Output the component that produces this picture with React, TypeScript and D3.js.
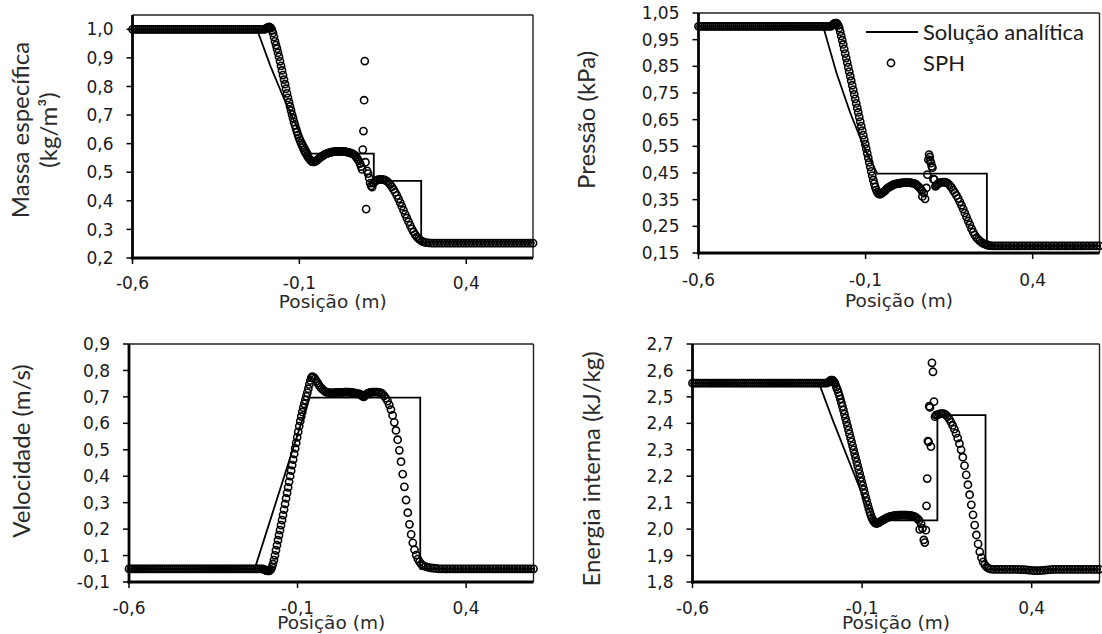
import React from "react";
import * as d3 from "d3";

// SPH particle positions (m), shared by the four panels
const posX = [
  // left state
  -0.600, -0.594, -0.588, -0.582, -0.576, -0.570, -0.564, -0.558, -0.552, -0.546,
  -0.540, -0.534, -0.528, -0.522, -0.516, -0.510, -0.504, -0.498, -0.492, -0.486,
  -0.480, -0.474, -0.468, -0.462, -0.456, -0.450, -0.444, -0.438, -0.432, -0.426,
  -0.420, -0.414, -0.408, -0.402, -0.396, -0.390, -0.384, -0.378, -0.372, -0.366,
  -0.360, -0.354, -0.348, -0.342, -0.336, -0.330, -0.324, -0.318, -0.312, -0.306,
  -0.300, -0.294, -0.288, -0.282, -0.276, -0.270, -0.264, -0.258, -0.252, -0.246,
  -0.240, -0.234, -0.228, -0.222, -0.216, -0.210, -0.204,
  // rarefaction
  -0.200, -0.197, -0.194, -0.191, -0.188, -0.185, -0.182, -0.179, -0.176, -0.173,
  -0.170, -0.167, -0.164, -0.161, -0.158, -0.155, -0.152, -0.149, -0.146, -0.143,
  -0.140, -0.137, -0.134, -0.131, -0.128, -0.125, -0.122, -0.119, -0.116, -0.113,
  -0.110, -0.107, -0.104, -0.101, -0.098, -0.095, -0.092, -0.089, -0.086, -0.083,
  -0.080, -0.077, -0.074, -0.071, -0.068, -0.065, -0.062, -0.059, -0.056,
  // plateau
  -0.052, -0.048, -0.044, -0.040, -0.036, -0.032, -0.028, -0.024, -0.020, -0.016,
  -0.012, -0.008, -0.004, 0.000, 0.004, 0.008, 0.012, 0.016, 0.020, 0.024,
  0.028, 0.032, 0.036, 0.040, 0.044, 0.048, 0.052, 0.056, 0.060, 0.064, 0.068,
  // contact
  0.070, 0.074, 0.078, 0.082, 0.085, 0.088, 0.090, 0.092, 0.094, 0.096,
  0.098, 0.100, 0.103, 0.106, 0.109, 0.112, 0.115, 0.118,
  // post contact / shock
  0.122, 0.127, 0.132, 0.137, 0.142, 0.147, 0.152, 0.157, 0.162, 0.167,
  0.172, 0.177, 0.182, 0.187, 0.192, 0.197, 0.202, 0.207, 0.212, 0.217,
  0.222, 0.227, 0.232, 0.237, 0.242, 0.247, 0.252, 0.257, 0.262, 0.267, 0.272,
  // right state
  0.280, 0.288, 0.296, 0.304, 0.312, 0.320, 0.328, 0.336, 0.344, 0.352,
  0.360, 0.368, 0.376, 0.384, 0.392, 0.400, 0.408, 0.416, 0.424, 0.432,
  0.440, 0.448, 0.456, 0.464, 0.472, 0.480, 0.488, 0.496, 0.504, 0.512,
  0.520, 0.528, 0.536, 0.544, 0.552, 0.560, 0.568, 0.576, 0.584, 0.592, 0.600,
];

const rhoSPH = [
  1.0, 1.0, 1.0, 1.0, 1.0, 1.0, 1.0, 1.0, 1.0, 1.0,
  1.0, 1.0, 1.0, 1.0, 1.0, 1.0, 1.0, 1.0, 1.0, 1.0,
  1.0, 1.0, 1.0, 1.0, 1.0, 1.0, 1.0, 1.0, 1.0, 1.0,
  1.0, 1.0, 1.0, 1.0, 1.0, 1.0, 1.0, 1.0, 1.0, 1.0,
  1.0, 1.0, 1.0, 1.0, 1.0, 1.0, 1.0, 1.0, 1.0, 1.0,
  1.0, 1.0, 1.0, 1.0, 1.0, 1.0, 1.0, 1.0, 1.0, 1.0,
  1.0, 1.0, 1.0, 1.0, 1.0, 1.0, 1.0,
  1.003, 1.005, 1.007, 1.008, 1.007, 1.004, 0.997, 0.987, 0.973, 0.958,
  0.945, 0.932, 0.918, 0.904, 0.888, 0.872, 0.856, 0.840, 0.824, 0.808,
  0.792, 0.776, 0.760, 0.745, 0.730, 0.716, 0.702, 0.689, 0.676, 0.664,
  0.652, 0.641, 0.630, 0.620, 0.611, 0.602, 0.594, 0.586, 0.578, 0.571,
  0.565, 0.559, 0.553, 0.548, 0.544, 0.540, 0.537, 0.536, 0.536,
  0.538, 0.541, 0.545, 0.549, 0.553, 0.556, 0.559, 0.562, 0.564, 0.566,
  0.568, 0.569, 0.570, 0.571, 0.572, 0.572, 0.573, 0.573, 0.573, 0.573,
  0.573, 0.572, 0.572, 0.571, 0.570, 0.569, 0.568, 0.566, 0.564, 0.561, 0.558,
  0.553, 0.547, 0.540, 0.530, 0.520, 0.510, 0.579, 0.644, 0.752, 0.889,
  0.535, 0.371, 0.505, 0.495, 0.480, 0.462, 0.452, 0.448,
  0.462, 0.468, 0.472, 0.474, 0.475, 0.475, 0.474, 0.472, 0.469, 0.464,
  0.457, 0.449, 0.440, 0.430, 0.419, 0.407, 0.394, 0.381, 0.367, 0.353,
  0.340, 0.327, 0.314, 0.302, 0.291, 0.282, 0.274, 0.268, 0.263, 0.259, 0.256,
  0.254, 0.253, 0.252, 0.252, 0.252, 0.252, 0.252, 0.252, 0.252, 0.252,
  0.252, 0.252, 0.252, 0.252, 0.252, 0.252, 0.252, 0.252, 0.252, 0.252,
  0.252, 0.252, 0.252, 0.252, 0.252, 0.252, 0.252, 0.252, 0.252, 0.252,
  0.252, 0.252, 0.252, 0.252, 0.252, 0.252, 0.252, 0.252, 0.252, 0.252, 0.252,
];

const presSPH = [
  1.0, 1.0, 1.0, 1.0, 1.0, 1.0, 1.0, 1.0, 1.0, 1.0,
  1.0, 1.0, 1.0, 1.0, 1.0, 1.0, 1.0, 1.0, 1.0, 1.0,
  1.0, 1.0, 1.0, 1.0, 1.0, 1.0, 1.0, 1.0, 1.0, 1.0,
  1.0, 1.0, 1.0, 1.0, 1.0, 1.0, 1.0, 1.0, 1.0, 1.0,
  1.0, 1.0, 1.0, 1.0, 1.0, 1.0, 1.0, 1.0, 1.0, 1.0,
  1.0, 1.0, 1.0, 1.0, 1.0, 1.0, 1.0, 1.0, 1.0, 1.0,
  1.0, 1.0, 1.0, 1.0, 1.0, 1.0, 1.0,
  1.004, 1.007, 1.010, 1.012, 1.012, 1.010, 1.004, 0.994, 0.980, 0.964,
  0.948, 0.932, 0.915, 0.898, 0.881, 0.864, 0.847, 0.830, 0.813, 0.796,
  0.779, 0.762, 0.745, 0.728, 0.711, 0.694, 0.677, 0.660, 0.643, 0.626,
  0.609, 0.592, 0.575, 0.558, 0.541, 0.524, 0.507, 0.490, 0.473, 0.456,
  0.440, 0.424, 0.410, 0.397, 0.386, 0.378, 0.373, 0.371, 0.371,
  0.374, 0.377, 0.381, 0.386, 0.391, 0.395, 0.398, 0.401, 0.404, 0.406,
  0.408, 0.409, 0.410, 0.411, 0.412, 0.413, 0.413, 0.414, 0.414, 0.414,
  0.414, 0.414, 0.413, 0.412, 0.411, 0.409, 0.406, 0.402, 0.397, 0.391, 0.384,
  0.362, 0.375, 0.353, 0.394, 0.444, 0.500, 0.519, 0.510, 0.495, 0.487,
  0.475, 0.470, 0.427, 0.425, 0.400, 0.404, 0.408, 0.411,
  0.413, 0.415, 0.416, 0.416, 0.414, 0.410, 0.404, 0.396, 0.386, 0.376,
  0.366, 0.355, 0.342, 0.329, 0.315, 0.300, 0.285, 0.270, 0.256, 0.241,
  0.228, 0.217, 0.208, 0.201, 0.195, 0.190, 0.186, 0.183, 0.181, 0.179, 0.178,
  0.177, 0.177, 0.177, 0.177, 0.177, 0.177, 0.177, 0.177, 0.177, 0.177,
  0.177, 0.177, 0.177, 0.177, 0.177, 0.177, 0.177, 0.177, 0.177, 0.177,
  0.177, 0.177, 0.177, 0.177, 0.177, 0.177, 0.177, 0.177, 0.177, 0.177,
  0.177, 0.177, 0.177, 0.177, 0.177, 0.177, 0.177, 0.177, 0.177, 0.177, 0.177,
];

const velSPH = [
  0.05, 0.05, 0.05, 0.05, 0.05, 0.05, 0.05, 0.05, 0.05, 0.05,
  0.05, 0.05, 0.05, 0.05, 0.05, 0.05, 0.05, 0.05, 0.05, 0.05,
  0.05, 0.05, 0.05, 0.05, 0.05, 0.05, 0.05, 0.05, 0.05, 0.05,
  0.05, 0.05, 0.05, 0.05, 0.05, 0.05, 0.05, 0.05, 0.05, 0.05,
  0.05, 0.05, 0.05, 0.05, 0.05, 0.05, 0.05, 0.05, 0.05, 0.05,
  0.05, 0.05, 0.05, 0.05, 0.05, 0.05, 0.05, 0.05, 0.05, 0.05,
  0.05, 0.05, 0.05, 0.05, 0.05, 0.05, 0.05,
  0.048, 0.046, 0.044, 0.043, 0.042, 0.042, 0.044, 0.048, 0.056, 0.068,
  0.083, 0.101, 0.120, 0.139, 0.158, 0.177, 0.196, 0.215, 0.234, 0.253,
  0.274, 0.295, 0.316, 0.337, 0.358, 0.379, 0.400, 0.421, 0.442, 0.463,
  0.484, 0.505, 0.526, 0.547, 0.568, 0.589, 0.608, 0.626, 0.643, 0.659,
  0.674, 0.688, 0.702, 0.716, 0.731, 0.747, 0.762, 0.773, 0.777,
  0.774, 0.768, 0.760, 0.752, 0.744, 0.737, 0.731, 0.726, 0.722, 0.719,
  0.717, 0.716, 0.715, 0.715, 0.715, 0.715, 0.716, 0.716, 0.716, 0.717,
  0.717, 0.717, 0.717, 0.718, 0.718, 0.718, 0.718, 0.717, 0.716, 0.716, 0.715,
  0.714, 0.713, 0.712, 0.711, 0.710, 0.708, 0.706, 0.704, 0.702, 0.700,
  0.702, 0.705, 0.708, 0.711, 0.713, 0.715, 0.716, 0.717,
  0.718, 0.718, 0.718, 0.718, 0.717, 0.715, 0.711, 0.704, 0.695, 0.684,
  0.670, 0.652, 0.630, 0.604, 0.573, 0.538, 0.498, 0.455, 0.408, 0.360,
  0.310, 0.262, 0.218, 0.180, 0.148, 0.122, 0.102, 0.087, 0.076, 0.068, 0.062,
  0.058, 0.055, 0.053, 0.052, 0.051, 0.05, 0.05, 0.05, 0.05, 0.05,
  0.05, 0.05, 0.05, 0.05, 0.05, 0.05, 0.05, 0.05, 0.05, 0.05,
  0.05, 0.05, 0.05, 0.05, 0.05, 0.05, 0.05, 0.05, 0.05, 0.05,
  0.05, 0.05, 0.05, 0.05, 0.05, 0.05, 0.05, 0.05, 0.05, 0.05, 0.05,
];

const enerSPH = [
  2.552, 2.552, 2.552, 2.552, 2.552, 2.552, 2.552, 2.552, 2.552, 2.552,
  2.552, 2.552, 2.552, 2.552, 2.552, 2.552, 2.552, 2.552, 2.552, 2.552,
  2.552, 2.552, 2.552, 2.552, 2.552, 2.552, 2.552, 2.552, 2.552, 2.552,
  2.552, 2.552, 2.552, 2.552, 2.552, 2.552, 2.552, 2.552, 2.552, 2.552,
  2.552, 2.552, 2.552, 2.552, 2.552, 2.552, 2.552, 2.552, 2.552, 2.552,
  2.552, 2.552, 2.552, 2.552, 2.552, 2.552, 2.552, 2.552, 2.552, 2.552,
  2.552, 2.552, 2.552, 2.552, 2.552, 2.552, 2.552,
  2.555, 2.558, 2.561, 2.563, 2.563, 2.561, 2.556, 2.548, 2.537, 2.528,
  2.517, 2.505, 2.492, 2.478, 2.464, 2.450, 2.435, 2.420, 2.405, 2.390,
  2.375, 2.360, 2.345, 2.330, 2.315, 2.300, 2.285, 2.270, 2.255, 2.240,
  2.225, 2.210, 2.195, 2.180, 2.165, 2.150, 2.135, 2.120, 2.105, 2.091,
  2.077, 2.064, 2.052, 2.042, 2.034, 2.028, 2.024, 2.022, 2.022,
  2.024, 2.027, 2.030, 2.033, 2.036, 2.039, 2.042, 2.044, 2.046, 2.048,
  2.049, 2.050, 2.051, 2.052, 2.052, 2.053, 2.053, 2.053, 2.053, 2.053,
  2.053, 2.053, 2.052, 2.052, 2.051, 2.050, 2.048, 2.046, 2.043, 2.039, 2.033,
  1.999, 2.020, 2.003, 1.959, 1.949, 1.996, 2.088, 2.191, 2.333, 2.330,
  2.465, 2.460, 2.312, 2.629, 2.595, 2.482, 2.425, 2.431,
  2.432, 2.435, 2.437, 2.437, 2.436, 2.432, 2.425, 2.416, 2.405, 2.392,
  2.378, 2.362, 2.344, 2.323, 2.300, 2.272, 2.240, 2.205, 2.168, 2.130,
  2.092, 2.054, 2.015, 1.978, 1.944, 1.914, 1.892, 1.876, 1.865, 1.857, 1.852,
  1.849, 1.848, 1.848, 1.848, 1.848, 1.848, 1.848, 1.848, 1.848, 1.848,
  1.848, 1.847, 1.847, 1.846, 1.845, 1.844, 1.843, 1.843, 1.843, 1.844,
  1.845, 1.846, 1.847, 1.848, 1.848, 1.848, 1.848, 1.848, 1.848, 1.848,
  1.848, 1.848, 1.848, 1.848, 1.848, 1.848, 1.848, 1.848, 1.848, 1.848, 1.848,
];

// analytic solution, as polylines
const rhoExactX = [-0.6, -0.227, -0.187, -0.146, -0.106, -0.065, 0.123, 0.123, 0.265, 0.265, 0.6];
const rhoExactY = [1.0, 1.0, 0.872, 0.757, 0.654, 0.565, 0.565, 0.47, 0.47, 0.255, 0.255];
const presExactX = [-0.6, -0.227, -0.187, -0.146, -0.106, -0.065, 0.263, 0.263, 0.6];
const presExactY = [1.0, 1.0, 0.825, 0.676, 0.551, 0.4475, 0.4475, 0.177, 0.177];
const velExactX = [-0.6, -0.227, -0.065, 0.264, 0.264, 0.6];
const velExactY = [0.05, 0.05, 0.697, 0.697, 0.05, 0.05];
const enerExactX = [-0.6, -0.227, -0.187, -0.146, -0.106, -0.065, 0.122, 0.122, 0.264, 0.264, 0.6];
const enerExactY = [2.552, 2.552, 2.414, 2.281, 2.152, 2.033, 2.033, 2.431, 2.431, 1.848, 1.848];

// axis ticks
const xTicks = [-0.6, -0.1, 0.4];
const xTickLabels = ["-0,6", "-0,1", "0,4"];
const rhoTicks = [0.2, 0.3, 0.4, 0.5, 0.6, 0.7, 0.8, 0.9, 1.0];
const rhoTickLabels = ["0,2", "0,3", "0,4", "0,5", "0,6", "0,7", "0,8", "0,9", "1,0"];
const presTicks = [0.15, 0.25, 0.35, 0.45, 0.55, 0.65, 0.75, 0.85, 0.95, 1.05];
const presTickLabels = ["0,15", "0,25", "0,35", "0,45", "0,55", "0,65", "0,75", "0,85", "0,95", "1,05"];
const velTicks = [0, 0.1, 0.2, 0.3, 0.4, 0.5, 0.6, 0.7, 0.8, 0.9];
const velTickLabels = ["-0,1", "0,1", "0,2", "0,3", "0,4", "0,5", "0,6", "0,7", "0,8", "0,9"];
const enerTicks = [1.8, 1.9, 2.0, 2.1, 2.2, 2.3, 2.4, 2.5, 2.6, 2.7];
const enerTickLabels = ["1,8", "1,9", "2,0", "2,1", "2,2", "2,3", "2,4", "2,5", "2,6", "2,7"];

const TICK_FONT = "'DejaVu Sans', Verdana, sans-serif";
const TITLE_FONT = "Lato, 'Open Sans', sans-serif";
const INK = "#1a1a1a";
const DOT_R = 3.6;
const DOT_W = 1.6;

type PanelProps = {
  left: number;
  right: number;
  top: number;
  bottom: number;
  yDomain: [number, number];
  yTicks: number[];
  yTickLabels: string[];
  sph: number[];
  exactX: number[];
  exactY: number[];
  title: string[];
  titleX: number;
  titleY: number;
  xTickY: number;
  xTitleY: number;
};

function Panel(p: PanelProps) {
  const x = d3.scaleLinear().domain([-0.6, 0.6]).range([p.left, p.right]);
  const y = d3.scaleLinear().domain(p.yDomain).range([p.bottom, p.top]);
  const exact = d3
    .line<number>()
    .x((d) => x(d))
    .y((_, i) => y(p.exactY[i]))(p.exactX);
  const n = Math.min(posX.length, p.sph.length);

  return (
    <g>
      <line x1={p.left} x2={p.right} y1={p.top} y2={p.top} stroke="#222" strokeWidth={1.4} />
      <line x1={p.right} x2={p.right} y1={p.top} y2={p.bottom} stroke="#222" strokeWidth={1.4} />
      <path d={exact || ""} fill="none" stroke="#000" strokeWidth={1.8} />
      {posX.slice(0, n).map((px, i) => (
        <circle
          key={i}
          cx={x(px)}
          cy={y(p.sph[i])}
          r={DOT_R}
          fill="none"
          stroke="#000"
          strokeWidth={DOT_W}
        />
      ))}
      <line x1={p.left} x2={p.left} y1={p.top} y2={p.bottom + 1.4} stroke="#000" strokeWidth={2.8} />
      <line x1={p.left - 1.4} x2={p.right} y1={p.bottom} y2={p.bottom} stroke="#000" strokeWidth={2.8} />
      {p.yTicks.map((t, i) => (
        <g key={"y" + i}>
          <line x1={p.left - 6} x2={p.left} y1={y(t)} y2={y(t)} stroke="#000" strokeWidth={1.5} />
          <text
            x={p.left - 19}
            y={y(t)}
            dy="0.36em"
            textAnchor="end"
            fontFamily={TICK_FONT}
            fontSize={17}
            fill={INK}
          >
            {p.yTickLabels[i]}
          </text>
        </g>
      ))}
      {xTicks.map((t, i) => (
        <g key={"x" + i}>
          <line x1={x(t)} x2={x(t)} y1={p.bottom} y2={p.bottom + 6} stroke="#000" strokeWidth={1.5} />
          <text
            x={x(t)}
            y={p.xTickY}
            textAnchor="middle"
            fontFamily={TICK_FONT}
            fontSize={17}
            fill={INK}
          >
            {xTickLabels[i]}
          </text>
        </g>
      ))}
      <text
        x={(p.left + p.right) / 2}
        y={p.xTitleY}
        textAnchor="middle"
        fontFamily={TICK_FONT}
        fontSize={18.5}
        fill="#2a2a2a"
      >
        Posição (m)
      </text>
      <text
        transform={`translate(${p.titleX},${p.titleY}) rotate(-90)`}
        textAnchor="middle"
        fontFamily={TITLE_FONT}
        fontSize={24}
        fill="#2a2a2a"
      >
        {p.title.map((t, i) => (
          <tspan key={i} x={0} dy={i === 0 ? 0 : 28}>
            {t}
          </tspan>
        ))}
      </text>
    </g>
  );
}

export default function App() {
  return (
    <svg
      width={1102}
      height={634}
      style={{ position: "absolute", left: 0, top: 0, background: "#fff" }}
    >
      <rect width={1102} height={634} fill="#fff" />
      <Panel
        left={132.5}
        right={533}
        top={15}
        bottom={258}
        yDomain={[0.2, 1.05]}
        yTicks={rhoTicks}
        yTickLabels={rhoTickLabels}
        sph={rhoSPH}
        exactX={rhoExactX}
        exactY={rhoExactY}
        title={["Massa específica", "(kg/m³)"]}
        titleX={29}
        titleY={130}
        xTickY={289}
        xTitleY={308}
      />
      <Panel
        left={698.5}
        right={1099.5}
        top={13}
        bottom={253}
        yDomain={[0.15, 1.05]}
        yTicks={presTicks}
        yTickLabels={presTickLabels}
        sph={presSPH}
        exactX={presExactX}
        exactY={presExactY}
        title={["Pressão (kPa)"]}
        titleX={595}
        titleY={120}
        xTickY={286}
        xTitleY={307}
      />
      <Panel
        left={129}
        right={533.5}
        top={344}
        bottom={582}
        yDomain={[0, 0.9]}
        yTicks={velTicks}
        yTickLabels={velTickLabels}
        sph={velSPH}
        exactX={velExactX}
        exactY={velExactY}
        title={["Velocidade (m/s)"]}
        titleX={30}
        titleY={451}
        xTickY={614}
        xTitleY={629}
      />
      <Panel
        left={692.5}
        right={1099.5}
        top={344}
        bottom={582}
        yDomain={[1.8, 2.7]}
        yTicks={enerTicks}
        yTickLabels={enerTickLabels}
        sph={enerSPH}
        exactX={enerExactX}
        exactY={enerExactY}
        title={["Energia interna (kJ/kg)"]}
        titleX={600}
        titleY={469}
        xTickY={614}
        xTitleY={629}
      />
      {/* legend */}
      <line x1={866} x2={918} y1={32} y2={32} stroke="#000" strokeWidth={1.8} />
      <text x={923} y={39.5} fontFamily={TITLE_FONT} fontSize={22} fill="#1a1a1a">
        Solução analítica
      </text>
      <circle cx={891} cy={63} r={DOT_R} fill="none" stroke="#000" strokeWidth={DOT_W} />
      <text x={923} y={70.5} fontFamily={TITLE_FONT} fontSize={22} fill="#1a1a1a">
        SPH
      </text>
    </svg>
  );
}
